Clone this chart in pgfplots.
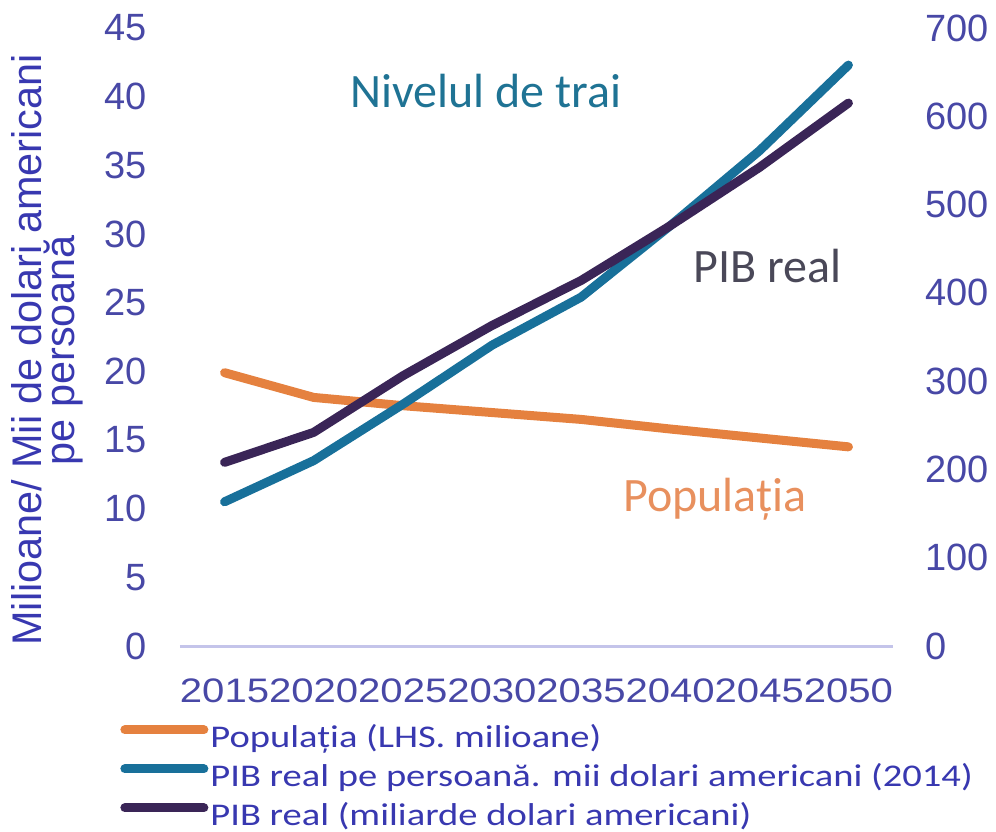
\documentclass[border=0pt]{standalone}
\usepackage{fontspec}
\usepackage{pgfplots}
\pgfplotsset{compat=1.18}
\newfontfamily\arialf{Liberation Sans}
\newfontfamily\arialw[FakeStretch=1.18]{Liberation Sans}
\newfontfamily\calib{Carlito}
\newfontfamily\calibw[FakeStretch=1.22]{Carlito}
\definecolor{cOr}{HTML}{E5813F}
\definecolor{cTe}{HTML}{18709A}
\definecolor{cPu}{HTML}{3A2557}
\definecolor{cTick}{HTML}{4848A6}
\definecolor{cLab}{HTML}{3838B0}
\definecolor{cBase}{HTML}{C4C4EA}
\definecolor{cPib}{HTML}{4A4858}
\definecolor{cPopT}{HTML}{E8905E}
\definecolor{cNivT}{HTML}{1F7394}

\begin{document}
\begin{tikzpicture}
\useasboundingbox (-90bp,-93bp) rectangle (408bp,323bp);
\begin{axis}[
  scale only axis, width=356.5bp, height=309bp,
  xmin=2012.5, xmax=2052.5, ymin=0, ymax=45,
  xtick={2015,2020,...,2050}, ytick={0,5,...,45},
  axis x line*=bottom, axis y line*=left,
  x axis line style={cBase, line width=1.5bp, -},
  y axis line style={draw=none},
  major tick length=0pt,
  tick style={draw=none},
  /pgf/number format/assume math mode=true,
  /pgf/number format/1000 sep={},
  ticklabel style={font=\arialf\fontsize{19bp}{22bp}\selectfont, text=cTick, inner sep=0pt},
  xticklabel style={font=\arialw\fontsize{17bp}{20bp}\selectfont},
  xticklabel shift=16bp,
  yticklabel shift=16.5bp,
  legend style={at={(axis description cs:-0.0842,-0.1181)}, anchor=north west,
    draw=none, fill=none, inner sep=0pt,
    font=\calibw\fontsize{15.8bp}{19.5bp}\selectfont, text=cLab,
    nodes={inner sep=0pt, text height=14bp, text depth=5.5bp},
    column sep=1bp, row sep=0pt},
  legend cell align=left,
  legend image code/.code={\draw[#1, line width=4.5bp, line cap=round] (2.25bp,4.5bp) -- (41.75bp,4.5bp);},
]
\addplot[cOr, line width=4.5bp, line cap=round, line join=round] coordinates {
 (2015,19.9) (2020,18.1) (2025,17.5) (2030,17.0) (2035,16.5) (2040,15.8) (2045,15.15) (2050,14.5)};
\addlegendentry{Populația (LHS. milioane)}
\addplot[cTe, line width=4.5bp, line cap=round, line join=round] coordinates {
 (2015,10.5) (2020,13.5) (2025,17.6) (2030,21.9) (2035,25.4) (2040,30.6) (2045,36.05) (2050,42.3)};
\addlegendentry{PIB real pe persoană. mii dolari americani (2014)}
\addlegendimage{cPu, line width=4.5bp, line cap=round}
\addlegendentry{PIB real (miliarde dolari americani)}
\end{axis}
\begin{axis}[
  scale only axis, width=356.5bp, height=309bp,
  xmin=2012.5, xmax=2052.5, ymin=0, ymax=700,
  ytick={0,100,...,700},
  axis y line*=right, axis x line=none,
  y axis line style={draw=none},
  major tick length=0pt,
  tick style={draw=none},
  /pgf/number format/assume math mode=true,
  ticklabel style={font=\arialf\fontsize{19bp}{22bp}\selectfont, text=cTick, inner sep=0pt},
  yticklabel shift=16bp,
]
\addplot[cPu, line width=4.5bp, line cap=round, line join=round] coordinates {
 (2015,208) (2020,242) (2025,306) (2030,363) (2035,414) (2040,476) (2045,542) (2050,615)};
\end{axis}
\node[rotate=90, anchor=south, inner sep=0pt, align=center, text=cLab,
  font=\arialf\fontsize{20.7bp}{16.5bp}\selectfont] at (-48.5bp,148bp)
  {Milioane/ Mii de dolari americani\\pe persoană};
\node[anchor=base west, inner sep=0pt, text=cNivT, font=\calib\fontsize{24bp}{26bp}\selectfont] at (85bp,269bp) {Nivelul de trai};
\node[anchor=base west, inner sep=0pt, text=cPib, font=\calib\fontsize{24bp}{26bp}\selectfont] at (256.5bp,181.5bp) {PIB real};
\node[anchor=base west, inner sep=0pt, text=cPopT, font=\calib\fontsize{24bp}{26bp}\selectfont] at (221.5bp,67bp) {Populația};
\end{tikzpicture}
\end{document}
